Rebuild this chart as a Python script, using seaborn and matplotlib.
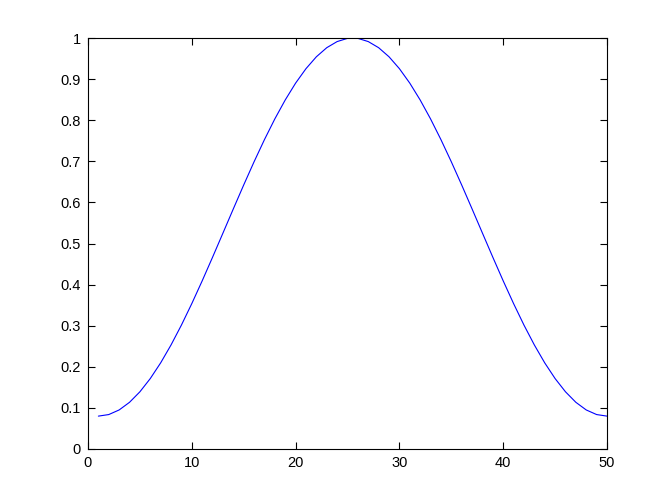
import matplotlib
matplotlib.use("Agg")
import matplotlib.pyplot as plt
import seaborn as sns
import pandas as pd

# === DATA ===
sample_index = list(range(1, 51))
window_values = [
    0.0800, 0.0838, 0.0950, 0.1136, 0.1392, 0.1714, 0.2096, 0.2532, 0.3015, 0.3538,
    0.4091, 0.4666, 0.5253, 0.5842, 0.6424, 0.6989, 0.7528, 0.8032, 0.8492, 0.8902,
    0.9254, 0.9543, 0.9764, 0.9913, 0.9991, 0.9991, 0.9913, 0.9764, 0.9543, 0.9254,
    0.8902, 0.8492, 0.8032, 0.7528, 0.6989, 0.6424, 0.5842, 0.5253, 0.4666, 0.4091,
    0.3538, 0.3015, 0.2532, 0.2096, 0.1714, 0.1392, 0.1136, 0.0950, 0.0838, 0.0800,
]
x_ticks = [0, 10, 20, 30, 40, 50]
y_ticks = [0, 0.1, 0.2, 0.3, 0.4, 0.5, 0.6, 0.7, 0.8, 0.9, 1]
y_tick_labels = ["0", "0.1", "0.2", "0.3", "0.4", "0.5", "0.6", "0.7", "0.8", "0.9", "1"]

df = pd.DataFrame({"n": sample_index, "w": window_values})

sns.set_style("ticks")
plt.rcParams["font.family"] = ["Liberation Sans", "DejaVu Sans"]

fig = plt.figure(figsize=(6.72, 5.04), dpi=100)
ax = fig.add_axes([88 / 672, 55 / 504, 519 / 672, 411 / 504])

sns.lineplot(data=df, x="n", y="w", ax=ax, color="#0000ff", linewidth=0.8)

ax.set_xlim(0, 50)
ax.set_ylim(0, 1)
ax.set_xticks(x_ticks)
ax.set_yticks(y_ticks)
ax.set_yticklabels(y_tick_labels)
ax.set_xlabel("")
ax.set_ylabel("")
ax.tick_params(direction="in", length=5, width=0.8, labelsize=10.5, top=True, right=True,
               colors="black", pad=5)
for side in ["top", "right", "bottom", "left"]:
    ax.spines[side].set_visible(True)
    ax.spines[side].set_color("black")
    ax.spines[side].set_linewidth(0.8)

fig.savefig("out.png", dpi=100, facecolor="white")
plt.close(fig)
